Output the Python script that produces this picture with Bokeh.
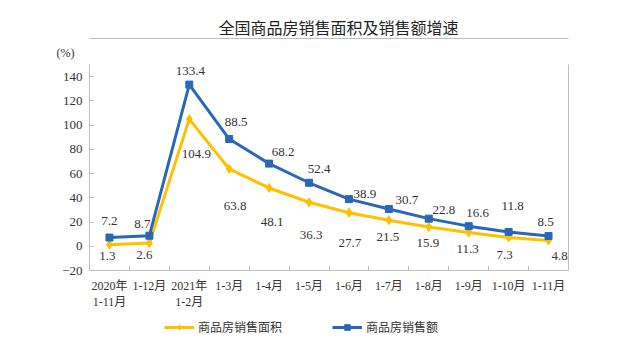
from bokeh.plotting import figure
from bokeh.models import (ColumnDataSource, Range1d, FixedTicker, LabelSet, Title,
                          Legend, LegendItem, LinearAxis)
from bokeh.embed import file_html
from bokeh.resources import INLINE

# ---- data ----
periods = ["2020年\n1-11月", "1-12月", "2021年\n1-2月", "1-3月", "1-4月", "1-5月",
           "1-6月", "1-7月", "1-8月", "1-9月", "1-10月", "1-11月"]
sales_area = [1.3, 2.6, 104.9, 63.8, 48.1, 36.3, 27.7, 21.5, 15.9, 11.3, 7.3, 4.8]
sales_value = [7.2, 8.7, 133.4, 88.5, 68.2, 52.4, 38.9, 30.7, 22.8, 16.6, 11.8, 8.5]
y_ticks = [-20, 0, 20, 40, 60, 80, 100, 120, 140]
y_min, y_max = -20, 150

title_text = "全国商品房销售面积及销售额增速"
unit_text = "(%)"
area_name = "商品房销售面积"
value_name = "商品房销售额"

# ---- label placement (screen pixels relative to each point) ----
area_dx = [-2, -5, 7, 6, 3, 2, 1, -1, -1, -1, -4, 11]
area_dy = [-11, -12, -35, -37, -34, -33, -30, -17, -16, -16, -18, -16]
value_dx = [0, -7, 1, 7, 14, 10, 16, 18, 15, 9, 4, -3]
value_dy = [17, 12, 14, 17, 12, 14, 5, 9, 9, 13, 26, 14]

YELLOW = "#FFC000"
BLUE = "#2A67B8"
GRID = "#BFBFBF"
TEXT = "#333333"
SERIF = "Liberation Serif, Noto Sans CJK SC"
CJK = "Noto Sans CJK SC"

xs = [i + 0.5 for i in range(len(periods))]

src = ColumnDataSource(dict(
    x=xs,
    area=sales_area, value=sales_value,
    area_txt=[f"{v:.1f}" for v in sales_area],
    value_txt=[f"{v:.1f}" for v in sales_value],
    adx=area_dx, ady=area_dy, vdx=value_dx, vdy=value_dy,
))

# the frame runs down to the canvas bottom so the legend under the axis is drawn;
# px per unit = 206 / 170 -> 82 px below the -20 line
PX_PER_UNIT = 206 / (y_max - y_min)
frame_bottom = y_min - 82 / PX_PER_UNIT

p = figure(width=637, height=352, output_backend="svg", toolbar_location=None,
           x_range=Range1d(0, len(periods)), y_range=Range1d(frame_bottom, y_max),
           min_border_left=89, min_border_right=69, min_border_top=64,
           min_border_bottom=0)

p.title.text = title_text
p.title.text_font = CJK
p.title.text_font_size = "16px"
p.title.text_font_style = "normal"
p.title.text_color = "#222222"
p.title.align = "left"
p.title.offset = 129
p.title.standoff = 0

p.add_layout(Title(text=unit_text, align="left", offset=-33, text_font=SERIF,
                   text_font_size="12px", text_font_style="normal",
                   text_color=TEXT, standoff=10), "above")

p.outline_line_color = None
p.xgrid.visible = False
p.ygrid.visible = False
p.background_fill_color = "white"
p.border_fill_color = "white"

# x axis, pinned to the -20 line
xa = p.xaxis[0]
xa.fixed_location = y_min
xa.ticker = FixedTicker(ticks=xs, minor_ticks=list(range(1, len(periods))))
xa.major_label_overrides = {x: lab for x, lab in zip(xs, periods)}
xa.major_tick_in = 0
xa.major_tick_out = 0
xa.minor_tick_in = 5
xa.minor_tick_out = 0
xa.minor_tick_line_color = GRID
xa.axis_line_color = GRID
xa.major_label_text_font = SERIF
xa.major_label_text_font_size = "12px"
xa.major_label_text_color = TEXT
xa.major_label_standoff = 8

# y axis
ya = p.yaxis[0]
ya.bounds = (y_min, y_max)
ya.ticker = FixedTicker(ticks=y_ticks)
ya.major_tick_in = 4
ya.major_tick_out = 0
ya.minor_tick_line_color = None
ya.major_tick_line_color = GRID
ya.axis_line_color = GRID
ya.major_label_text_font = SERIF
ya.major_label_text_font_size = "13px"
ya.major_label_text_color = TEXT
ya.major_label_standoff = 7

# plain borders on top and right
for side, bounds in (("right", (y_min, y_max)), ("above", "auto")):
    ax = LinearAxis(ticker=FixedTicker(ticks=[]), bounds=bounds,
                    axis_line_color=GRID, major_tick_line_color=None,
                    minor_tick_line_color=None, major_label_text_font_size="0px",
                    major_label_standoff=0)
    p.add_layout(ax, side)

# series
l1 = p.line("x", "area", source=src, line_color=YELLOW, line_width=3)
s1 = p.scatter("x", "area", source=src, marker="diamond", size=9,
               fill_color=YELLOW, line_color=YELLOW)
l2 = p.line("x", "value", source=src, line_color=BLUE, line_width=3)
s2 = p.scatter("x", "value", source=src, marker="square", size=7,
               fill_color=BLUE, line_color=BLUE)

for col, ycol, dx, dy in (("area_txt", "area", "adx", "ady"),
                          ("value_txt", "value", "vdx", "vdy")):
    p.add_layout(LabelSet(x="x", y=ycol, text=col, x_offset=dx, y_offset=dy,
                          source=src, text_align="center",
                          text_baseline="middle", text_font=SERIF,
                          text_font_size="13px", text_color=TEXT))

legend = Legend(items=[LegendItem(label=area_name, renderers=[l1, s1]),
                       LegendItem(label=value_name, renderers=[l2, s2])],
                orientation="horizontal", location=(75, 17),
                glyph_width=30, glyph_height=14, label_standoff=4, spacing=50,
                padding=0, margin=0, border_line_color=None,
                background_fill_alpha=0,
                label_text_font=CJK, label_text_font_size="12px",
                label_text_color=TEXT)
p.add_layout(legend)

open("out.html", "w").write(file_html(p, INLINE))
